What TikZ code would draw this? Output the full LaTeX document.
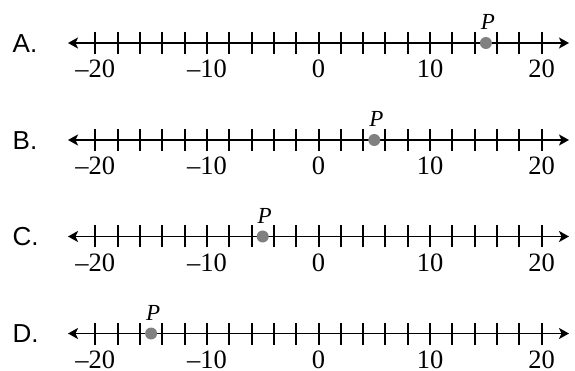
\documentclass[tikz,border=0pt]{standalone}
\usepackage{fontspec}
\setmainfont{Liberation Serif}
\newfontfamily\labfont{Liberation Sans}
\usetikzlibrary{arrows.meta}
\begin{document}
\begin{tikzpicture}[x=1pt,y=-1pt,
  axisline/.style={line width=1.9pt,{Stealth[length=10pt,width=11pt,inset=2.5pt]}-{Stealth[length=10pt,width=11pt,inset=2.5pt]}},
  tickmark/.style={line width=2pt},
  numlab/.style={anchor=base,inner sep=0pt,font=\fontsize{26.5}{30}\selectfont},
  choicelab/.style={anchor=west,inner sep=0pt,font=\labfont\fontsize{26}{30}\selectfont},
  pdot/.style={circle,fill=black!50,inner sep=0pt,minimum size=12pt},
  plab/.style={inner sep=0pt,font=\fontsize{23}{26}\selectfont\itshape}]
\useasboundingbox (0,0) rectangle (575,371);
\foreach \ch/\yy/\pv [count=\i] in {A/43/15,B/140/5,C/236.5/-5,D/333.5/-15}{
  \node[choicelab] (lab\i) at (12.5,\yy+0.5) {\ch.};
  \coordinate (L\i) at (68,\yy);
  \coordinate (R\i) at (569,\yy);
  \draw[axisline] (L\i) -- (R\i);
  \foreach \v in {-20,-18,...,20}{
    \coordinate (t\i\v) at ({318.5+11.16*\v},\yy);
    \draw[tickmark] ([yshift=-11pt]t\i\v) -- ([yshift=11pt]t\i\v);
  }
  \foreach \v/\s in {-20/\textendash20,-10/\textendash10,0/0,10/10,20/20}{
    \node[numlab] (n\i\v) at ({318.5+11.16*\v},\yy+35) {\s};
  }
  \node[pdot] (p\i) at ({318.5+11.16*\pv},\yy) {};
  \node[plab] (pl\i) at ([xshift=2pt,yshift=21pt]p\i) {P};
}
\end{tikzpicture}
\end{document}
